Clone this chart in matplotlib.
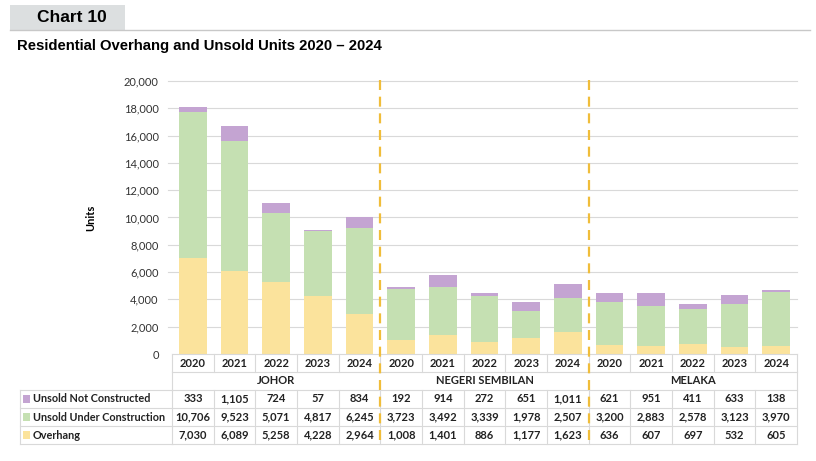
import matplotlib.pyplot as plt
from matplotlib.transforms import blended_transform_factory
from matplotlib.lines import Line2D
from matplotlib.patches import Rectangle

regions = ["JOHOR", "NEGERI SEMBILAN", "MELAKA"]
years = ["2020", "2021", "2022", "2023", "2024"]
series_names = ["Unsold Not Constructed", "Unsold Under Construction", "Overhang"]

not_constructed = [333, 1105, 724, 57, 834,
                   192, 914, 272, 651, 1011,
                   621, 951, 411, 633, 138]
under_construction = [10706, 9523, 5071, 4817, 6245,
                      3723, 3492, 3339, 1978, 2507,
                      3200, 2883, 2578, 3123, 3970]
overhang = [7030, 6089, 5258, 4228, 2964,
            1008, 1401, 886, 1177, 1623,
            636, 607, 697, 532, 605]

c_purple = "#c4a4d2"
c_green = "#c5e0b2"
c_yellow = "#fbe39c"
c_dash = "#f0bd3a"
c_grid = "#d9d9d9"

W, H = 816, 461
fig = plt.figure(figsize=(W / 100, H / 100), dpi=100)
plt.rcParams["font.family"] = ["Lato", "DejaVu Sans"]


def fx(px):
    return px / W


def fy(py):
    return 1 - py / H


# header
fig.patches.append(Rectangle((fx(10), fy(30)), fx(115), 25 / H, transform=fig.transFigure,
                             facecolor="#dcdfe0", edgecolor="none"))
fig.lines.append(Line2D([fx(10), fx(810)], [fy(30.5), fy(30.5)], transform=fig.transFigure,
                        color="#c8c8c8", lw=1))
fig.text(fx(37), fy(18), "Chart 10", fontsize=12.5, fontweight="bold", family="Liberation Sans",
         va="center", ha="left")
fig.text(fx(17), fy(46), "Residential Overhang and Unsold Units 2020 \u2013 2024", fontsize=10.7,
         fontweight="bold", family="Liberation Sans", va="center", ha="left")

ax = fig.add_axes([fx(172), fy(354), (797 - 172) / W, (354 - 81) / H])
n = len(overhang)
x = list(range(n))
bw = 0.67
bottom2 = [a + b for a, b in zip(overhang, under_construction)]
ax.bar(x, overhang, bw, color=c_yellow, zorder=2)
ax.bar(x, under_construction, bw, bottom=overhang, color=c_green, zorder=2)
ax.bar(x, not_constructed, bw, bottom=bottom2, color=c_purple, zorder=2)

ax.set_xlim(-0.5, n - 0.5)
ax.set_ylim(0, 20000)
ax.set_yticks(range(0, 20001, 2000))
ax.set_yticklabels([f"{v:,}" for v in range(0, 20001, 2000)], fontsize=8, color="#333333")
ax.tick_params(axis="y", length=0, pad=9.5)
ax.set_xticks([])
for s in ax.spines.values():
    s.set_visible(False)
for v in range(2000, 20001, 2000):
    ax.axhline(v, xmin=-0.006, color=c_grid, lw=0.8, zorder=0, clip_on=False)
ax.set_ylabel("Units", fontsize=8, fontweight="bold", labelpad=20)

# table below the axis
tr = blended_transform_factory(ax.transData, fig.transFigure)
row_y = [354, 372, 390, 408, 426, 444]
label_left = 20
tab_right = n - 0.5


def hline(py, x0, x1, trans=tr):
    fig.lines.append(Line2D([x0, x1], [fy(py), fy(py)], transform=trans, color=c_grid, lw=0.8))


def vline(xv, y0, y1):
    fig.lines.append(Line2D([xv, xv], [fy(y0), fy(y1)], transform=tr, color=c_grid, lw=0.8))


hline(354, -0.5, tab_right)
hline(372, -0.5, tab_right)
for py in [390, 408, 426, 444]:
    fig.lines.append(Line2D([fx(label_left), fx(172)], [fy(py), fy(py)], transform=fig.transFigure,
                            color=c_grid, lw=0.8))
    hline(py, -0.5, tab_right)
fig.lines.append(Line2D([fx(label_left), fx(label_left)], [fy(390), fy(444)],
                        transform=fig.transFigure, color=c_grid, lw=0.8))
for i in range(n + 1):
    xv = i - 0.5
    vline(xv, 354, 372)
    vline(xv, 390, 444)
for xv in [-0.5, tab_right]:
    vline(xv, 372, 390)

for i in range(n):
    fig.text(i, fy(363), years[i % 5], transform=tr, ha="center", va="center",
             fontsize=8, fontweight="bold", color="#222222")
for k, r in enumerate(regions):
    fig.text(k * 5 + 2, fy(381), r, transform=tr, ha="center", va="center",
             fontsize=8, fontweight="bold", color="#222222")

rows = [not_constructed, under_construction, overhang]
cols = [c_purple, c_green, c_yellow]
for j, (name, vals, c) in enumerate(zip(series_names, rows, cols)):
    yc = (row_y[j + 2] + row_y[j + 3]) / 2
    fig.patches.append(Rectangle((fx(23), fy(yc + 4)), 7 / W, 8 / H, transform=fig.transFigure,
                                 facecolor=c, edgecolor="none"))
    fig.text(fx(33), fy(yc), name, ha="left", va="center", fontsize=7.8, fontweight="bold",
             color="#222222")
    for i, v in enumerate(vals):
        fig.text(i, fy(yc), f"{v:,}", transform=tr, ha="center", va="center",
                 fontsize=8, fontweight="bold", color="#222222")

# region separators
for xv in [4.5, 9.5]:
    fig.lines.append(Line2D([xv, xv], [fy(80), fy(445)], transform=tr, color=c_dash, lw=1.6,
                            linestyle=(0, (4.5, 3)), zorder=5))

fig.savefig("out.png", dpi=100)
